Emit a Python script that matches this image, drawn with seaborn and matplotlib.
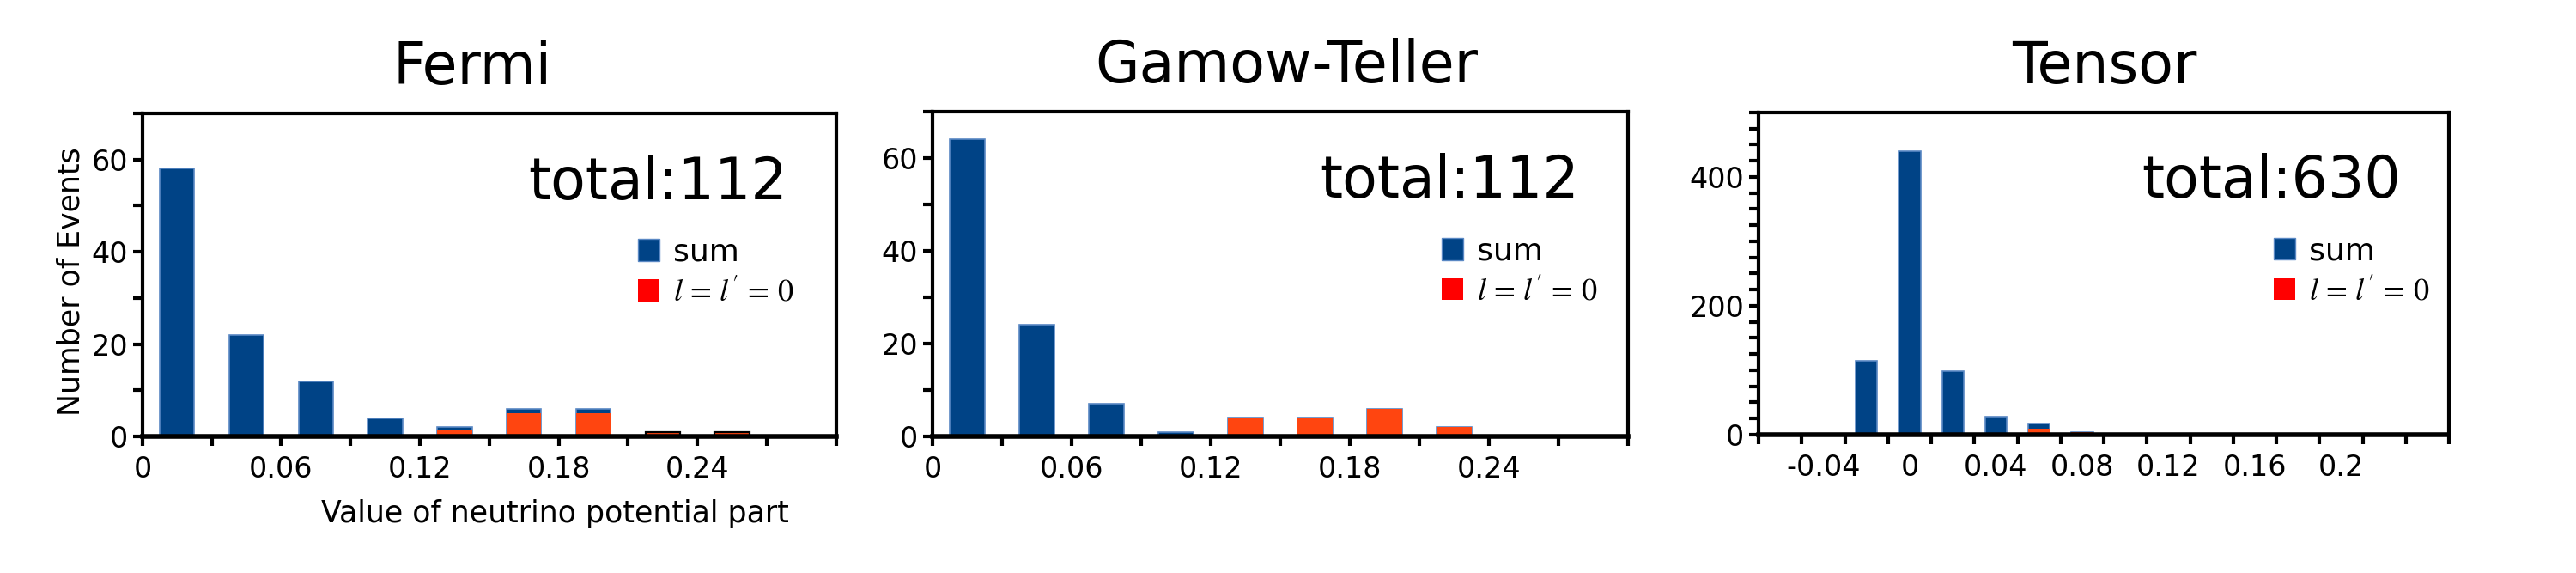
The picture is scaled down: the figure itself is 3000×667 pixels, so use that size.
import numpy as np
import pandas as pd
import matplotlib
matplotlib.use("Agg")
import matplotlib.pyplot as plt
from matplotlib.patches import Patch
from matplotlib.ticker import MultipleLocator
from matplotlib.font_manager import FontProperties
import seaborn as sns

# bin centres and counts
fermi_centers = [0.015, 0.045, 0.075, 0.105, 0.135, 0.165, 0.195, 0.225, 0.255, 0.285]
fermi_sum = [58, 22, 12, 4, 2, 6, 6, 1, 1, 0]
fermi_l0 = [0, 0, 0, 0, 1.5, 5, 5, 1, 1, 0]

gt_centers = [0.015, 0.045, 0.075, 0.105, 0.135, 0.165, 0.195, 0.225, 0.255, 0.285]
gt_sum = [64, 24, 7, 1, 4, 4, 6, 2, 0, 0]
gt_l0 = [0, 0, 0, 0, 4, 4, 6, 2, 0, 0]

tensor_centers = [-0.06, -0.04, -0.02, 0.0, 0.02, 0.04, 0.06, 0.08,
                  0.10, 0.12, 0.14, 0.16, 0.18, 0.20, 0.22, 0.24]
tensor_sum = [0, 0, 115, 440, 98, 28, 17, 4, 0, 1, 0, 0, 0, 0, 0, 0]
tensor_l0 = [0, 0, 0, 0, 0, 2, 9, 4, 0, 1, 0, 0, 0, 0, 0, 0]

titles = ["Fermi", "Gamow-Teller", "Tensor"]
totals = ["total:112", "total:112", "total:630"]

fermi_xticks = [0, 0.06, 0.12, 0.18, 0.24]
fermi_xticklabels = ["0", "0.06", "0.12", "0.18", "0.24"]
tensor_xticks = [-0.04, 0, 0.04, 0.08, 0.12, 0.16, 0.2]
tensor_xticklabels = ["-0.04", "0", "0.04", "0.08", "0.12", "0.16", "0.2"]

BLUE = "#004386"
EDGE_BLUE = "#5a88c4"
ORANGE = "#ff4510"
RED = "#ff0000"

sns.set_style("white")
plt.rcParams["font.family"] = ["DejaVu Sans"]
plt.rcParams["text.color"] = "black"
plt.rcParams["axes.labelcolor"] = "black"
plt.rcParams["xtick.color"] = "black"
plt.rcParams["ytick.color"] = "black"

fig = plt.figure(figsize=(30, 6.67), dpi=100)

panels = [
    dict(c=fermi_centers, s=fermi_sum, r=fermi_l0, rect=[0.0553, 0.2384, 0.2693, 0.5637],
         ylim=70, ymaj=20, ymin=10, tx=0.475, lx=0.714),
    dict(c=gt_centers, s=gt_sum, r=gt_l0, rect=[0.362, 0.2384, 0.270, 0.5667],
         ylim=70, ymaj=20, ymin=10, tx=0.509, lx=0.732),
    dict(c=tensor_centers, s=tensor_sum, r=tensor_l0, rect=[0.6827, 0.2414, 0.268, 0.5622],
         ylim=500, ymaj=200, ymin=25, tx=0.501, lx=0.746),
]

leg_prop = FontProperties(family="DejaVu Sans", size=26, math_fontfamily="stix")

for i, p in enumerate(panels):
    ax = fig.add_axes(p["rect"])
    df = pd.DataFrame({"center": p["c"], "sum": p["s"], "l0": p["r"]})
    w = df["center"][1] - df["center"][0]
    edges = list(df["center"] - w / 2) + [df["center"].iloc[-1] + w / 2]

    sns.histplot(data=df, x="center", weights="sum", bins=edges, shrink=0.5, color=BLUE,
                 alpha=1, edgecolor=EDGE_BLUE, linewidth=1.2, ax=ax)
    n_before = len(ax.patches)
    sns.histplot(data=df, x="center", weights="l0", bins=edges, shrink=0.5, color=ORANGE,
                 alpha=1, edgecolor="none", linewidth=0, ax=ax)
    if i == 0:
        # last two Fermi bins are outlined in black in the original
        for bar in ax.patches[n_before + 7:n_before + 9]:
            bar.set_edgecolor("black")
            bar.set_linewidth(1.6)

    ax.set_xlim(edges[0], edges[-1])
    ax.set_ylim(0, p["ylim"])
    ax.yaxis.set_major_locator(MultipleLocator(p["ymaj"]))
    ax.yaxis.set_minor_locator(MultipleLocator(p["ymin"]))

    if i < 2:
        ax.set_xticks(fermi_xticks)
        ax.set_xticklabels(fermi_xticklabels)
        ax.xaxis.set_minor_locator(MultipleLocator(0.03))
        ax.tick_params(axis="x", which="both", direction="out", length=8, width=3, pad=8)
    else:
        ax.set_xticks(edges, minor=True)
        ax.set_xticks(tensor_xticks)
        ax.set_xticklabels(tensor_xticklabels)
        ax.tick_params(axis="x", which="minor", direction="out", length=8, width=3)
        ax.tick_params(axis="x", which="major", length=0, pad=16)
    ax.tick_params(axis="y", which="both", direction="out", length=8, width=3, pad=4)
    ax.tick_params(axis="both", which="both", bottom=True, left=True, labelsize=24,
                   colors="black")

    for name, sp in ax.spines.items():
        sp.set_visible(True)
        sp.set_linewidth(4 if name == "bottom" else 3)
        sp.set_color("black")

    ax.set_ylabel("")
    ax.set_xlabel("")
    ax.set_title(titles[i], fontsize=48, x=p["tx"], y=1.09, pad=0, color="black")
    ax.text(0.93, 0.735, totals[i], transform=ax.transAxes, ha="right", va="baseline",
            fontsize=48, color="black")

    handles = [Patch(facecolor=BLUE, edgecolor=EDGE_BLUE), Patch(facecolor=RED, edgecolor="none")]
    ax.legend(handles, ["sum", r"$l\,=\,l'\,=\,0$"], loc="upper left",
              bbox_to_anchor=(p["lx"], 0.615), frameon=False, prop=leg_prop,
              handlelength=0.7, handleheight=0.7, handletextpad=0.45,
              borderpad=0, borderaxespad=0, labelspacing=0.35, labelcolor="black")

    if i == 0:
        ax.set_ylabel("Number of Events", fontsize=25, color="black")
        ax.yaxis.set_label_coords(-0.082, 0.48)
        ax.set_xlabel("Value of neutrino potential part", fontsize=25, color="black")
        ax.xaxis.set_label_coords(0.595, -0.195)

fig.savefig("out.png", dpi=100)
